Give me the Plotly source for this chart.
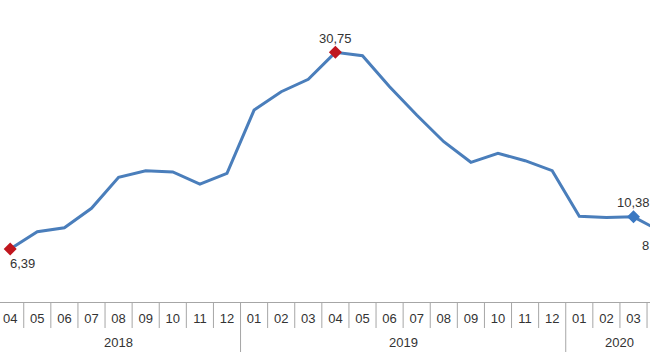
import plotly.graph_objects as go

months = ["04", "05", "06", "07", "08", "09", "10", "11", "12",
          "01", "02", "03", "04", "05", "06", "07", "08", "09", "10", "11", "12",
          "01", "02", "03", "04"]
years = ["2018"] * 9 + ["2019"] * 12 + ["2020"] * 4
values = [6.39, 8.53, 9.03, 11.43, 15.27, 16.09, 15.93, 14.44, 15.76,
          23.60, 25.87, 27.41, 30.75, 30.33, 26.49, 22.98, 19.68, 17.13, 18.24, 17.33, 16.09,
          10.45, 10.30, 10.38, 8.58]
# labelled points: index -> (marker colour, label position)
highlights = {0: ("#C0161E", "below"), 12: ("#C0161E", "above"),
              23: ("#3A78C2", "above"), 24: ("#3A78C2", "below")}

FONT = dict(size=13, color="#333333", family="Liberation Sans, Arial")
W, H = 690, 360          # figure is wider than the 650 px window, as in the cropped original
PX_PER_CAT = 27.1
lo = -0.376
hi = lo + W / PX_PER_CAT

x = list(range(len(values)))
fig = go.Figure()
fig.add_trace(go.Scatter(x=x, y=values, mode="lines",
                         line=dict(color="#4A7EBB", width=3), hoverinfo="skip"))
for i, (col, pos) in highlights.items():
    fig.add_trace(go.Scatter(x=[x[i]], y=[values[i]], mode="markers",
                             marker=dict(symbol="diamond", size=10, color=col),
                             hoverinfo="skip"))

annotations = []
for i, (col, pos) in highlights.items():
    txt = f"{values[i]:.2f}".replace(".", ",")
    xa, xs = "center", 0
    if i == 0:
        xa, xs = "left", -2
    if i == len(values) - 1:
        xs = -6
    annotations.append(dict(x=x[i], y=values[i], text=txt, showarrow=False,
                            xanchor=xa, xshift=xs, yanchor="middle",
                            yshift=14 if pos == "above" else -14, font=FONT))

PH = H - 58.0
shapes = []
for i in range(len(months)):
    b = i + 0.5
    if not (lo < b < hi):
        continue
    yearsep = i == len(months) - 1 or years[i] != years[i + 1]
    shapes.append(dict(type="line", xref="x", yref="paper", x0=b, x1=b,
                       y0=0, y1=-(50 if yearsep else 26) / PH,
                       line=dict(color="#A6A6A6", width=1)))

for yr in dict.fromkeys(years):
    idx = [i for i, v in enumerate(years) if v == yr]
    annotations.append(dict(x=sum(idx) / len(idx), xref="x", y=-40 / PH, yref="paper",
                            text=yr, showarrow=False, yanchor="middle", font=FONT))

fig.update_layout(
    width=W, height=H, margin=dict(l=0, r=0, t=0, b=58, autoexpand=False),
    paper_bgcolor="white", plot_bgcolor="white", showlegend=False,
    annotations=annotations, shapes=shapes,
    xaxis=dict(range=[lo, hi], tickvals=x, ticktext=months, ticks="", automargin=False,
               showgrid=False, zeroline=False, showline=True, linecolor="#A6A6A6",
               linewidth=1, ticklabelstandoff=4, tickfont=FONT),
    yaxis=dict(range=[-0.17, 37.23], visible=False, showgrid=False, zeroline=False,
               automargin=False),
)
fig.write_html("out.html", config={"displayModeBar": False},
               post_script="document.body.style.margin='0';document.body.style.overflow='hidden';")
